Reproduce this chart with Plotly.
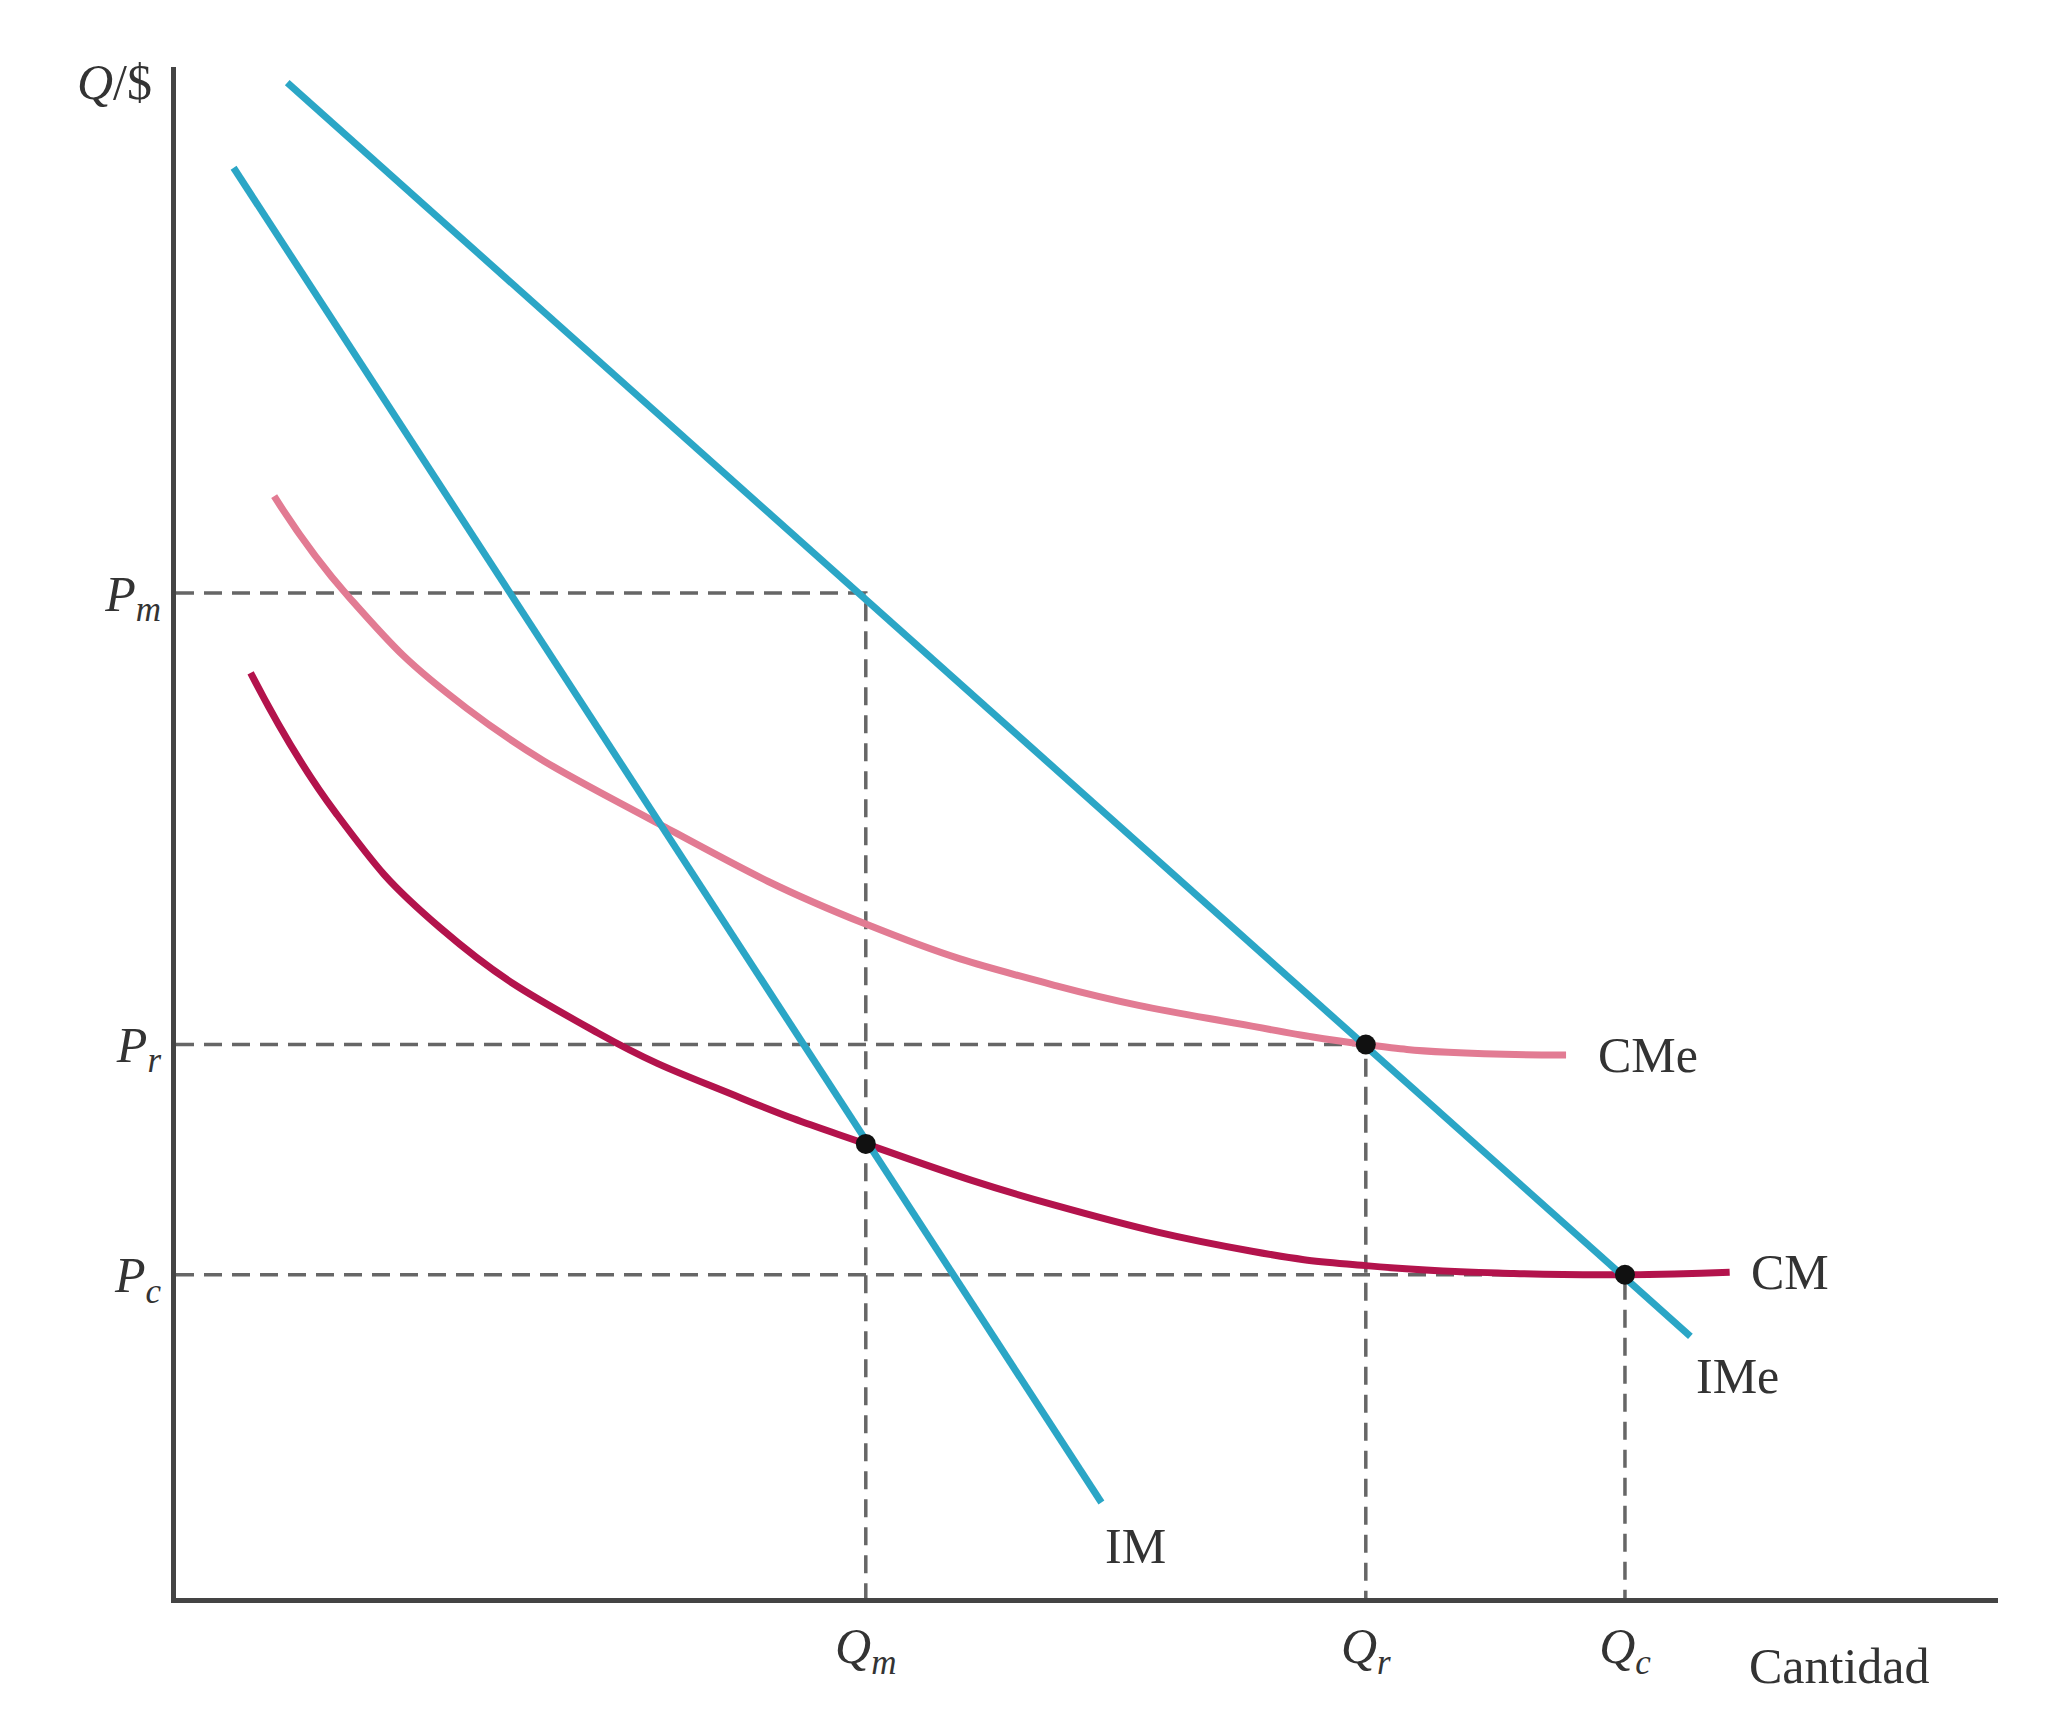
import plotly.graph_objects as go

ime_x = [85, 1157]; ime_y = [1158, 200]
im_x = [44, 707]; im_y = [1093, 73]
cme_x = [75, 132, 222, 372, 527, 672, 822, 909, 972, 1062]
cme_y = [842, 765, 680, 590, 515, 468, 437, 423, 417, 415]
cm_x = [57, 122, 202, 322, 432, 527, 672, 822, 909, 1022, 1107, 1187]
cm_y = [707, 600, 512, 432, 382, 347, 300, 265, 254, 248, 247, 249]
pts_x = [527, 909, 1107]; pts_y = [347, 423, 247]
q_vals = [527, 909, 1107]; q_text = ["<i>Q<sub>m</sub></i>", "<i>Q<sub>r</sub></i>", "<i>Q<sub>c</sub></i>"]
p_vals = [768, 423, 247]; p_text = ["<i>P<sub>m</sub></i>", "<i>P<sub>r</sub></i>", "<i>P<sub>c</sub></i>"]
XMAX, YMAX = 1392, 1170

teal = "#2ba6c6"
fig = go.Figure()
dash = dict(color="#666", width=3.5, dash="18px,10px")
for qx, py in zip(q_vals, p_vals):
    fig.add_trace(go.Scatter(x=[0, qx, qx], y=[py, py, 0], mode="lines", line=dash))
fig.add_trace(go.Scatter(x=cme_x, y=cme_y, mode="lines", line=dict(color="#e27b93", width=7, shape="spline", smoothing=1.3)))
fig.add_trace(go.Scatter(x=cm_x, y=cm_y, mode="lines", line=dict(color="#b3134c", width=7, shape="spline", smoothing=1.3)))
fig.add_trace(go.Scatter(x=ime_x, y=ime_y, mode="lines", line=dict(color=teal, width=7)))
fig.add_trace(go.Scatter(x=im_x, y=im_y, mode="lines", line=dict(color=teal, width=7)))
fig.add_trace(go.Scatter(x=pts_x, y=pts_y, mode="markers", marker=dict(color="#111", size=20)))

font = dict(family="Liberation Serif", size=50, color="#333")
anns = [("CMe", 1085, 415), ("CM", 1202, 249), ("IMe", 1160, 170), ("IM", 708, 40)]
for t, x, y in anns:
    fig.add_annotation(x=x, y=y, text=t, showarrow=False, xanchor="left", font=font)
fig.add_annotation(x=0.862, y=-0.025, xref="paper", yref="paper", text="Cantidad", showarrow=False,
                   xanchor="left", yanchor="top", font=font)
fig.add_annotation(x=-0.012, y=1.01, xref="paper", yref="paper", text="<i>Q</i>/$", showarrow=False,
                   xanchor="right", yanchor="top", font=font)

fig.update_layout(
    width=2052, height=1716, showlegend=False, plot_bgcolor="white", paper_bgcolor="white",
    margin=dict(l=168, r=62, t=59, b=126),
    xaxis=dict(range=[0, XMAX], showgrid=False, zeroline=False, showline=True, linecolor="#444", linewidth=5,
               tickvals=q_vals, ticktext=q_text, ticks="", tickfont=font),
    yaxis=dict(range=[0, YMAX], showgrid=False, zeroline=False, showline=True, linecolor="#444", linewidth=5,
               tickvals=p_vals, ticktext=p_text, ticks="", tickfont=font),
)
fig.write_html("out.html")
